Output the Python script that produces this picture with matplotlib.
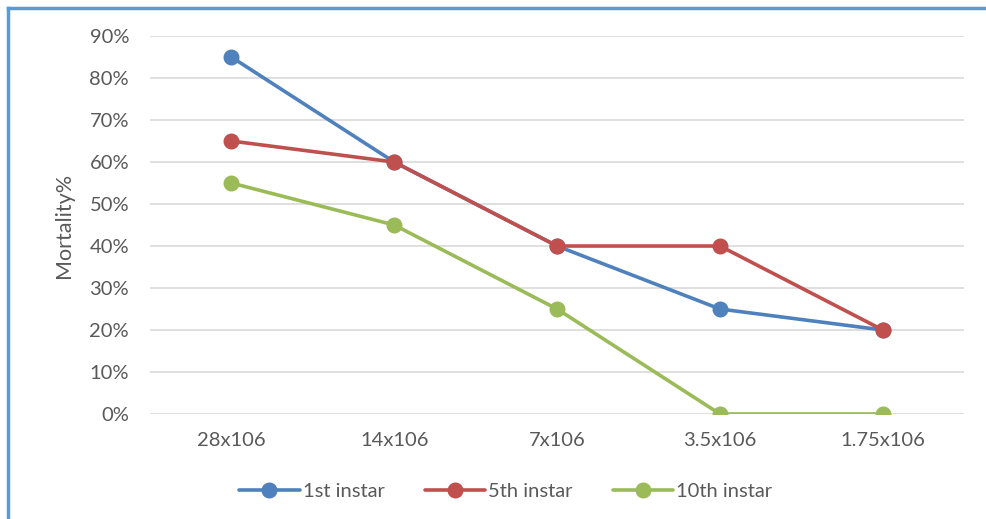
import matplotlib
matplotlib.use('Agg')
import matplotlib.pyplot as plt
from matplotlib.ticker import PercentFormatter

categories = ["28x106", "14x106", "7x106", "3.5x106", "1.75x106"]
first_instar = [85, 60, 40, 25, 20]
fifth_instar = [65, 60, 40, 40, 20]
tenth_instar = [55, 45, 25, 0, 0]

series = [
    ("1st instar", first_instar, "#4F81BD"),
    ("5th instar", fifth_instar, "#C0504D"),
    ("10th instar", tenth_instar, "#9BBB59"),
]

plt.rcParams['font.family'] = ['Lato', 'DejaVu Sans']
text_col = "#595959"
fs = 14.5

fig = plt.figure(figsize=(9.86, 5.19), dpi=100)
ax = fig.add_axes([0.152, 0.2023, 0.826, 0.7283])

x = list(range(len(categories)))
for name, vals, col in series:
    ax.plot(x, vals, color=col, lw=2.6, marker='o', markersize=10.5,
            label=name, solid_capstyle='round')

ax.set_xlim(-0.5, len(categories) - 0.5)
ax.set_ylim(0, 90)
ax.set_yticks(range(0, 91, 10))
ax.yaxis.set_major_formatter(PercentFormatter(decimals=0))
ax.set_xticks(x)
ax.set_xticklabels(categories)
ax.grid(axis='y', color="#D9D9D9", lw=1.2)
ax.set_axisbelow(True)
for s in ax.spines.values():
    s.set_visible(False)
ax.tick_params(length=0, labelsize=fs, labelcolor=text_col)
ax.tick_params(axis='x', pad=13)
ax.tick_params(axis='y', pad=15)
ax.set_ylabel("Mortality%", fontsize=15.5, color=text_col, labelpad=11)

ax.legend(loc='center', bbox_to_anchor=(0.437, -0.205), ncol=3, frameon=False,
          fontsize=fs, labelcolor=text_col, handlelength=3.0,
          handletextpad=0.15, columnspacing=2.0)

# blue frame on top and left edge
fig.add_artist(plt.Line2D([0.008, 1.0], [1 - 8 / 519, 1 - 8 / 519],
                          transform=fig.transFigure, color="#5B9BD5", lw=2.5))
fig.add_artist(plt.Line2D([8 / 986, 8 / 986], [0, 1 - 8 / 519],
                          transform=fig.transFigure, color="#5B9BD5", lw=2.5))

fig.savefig("out.png", dpi=100)
